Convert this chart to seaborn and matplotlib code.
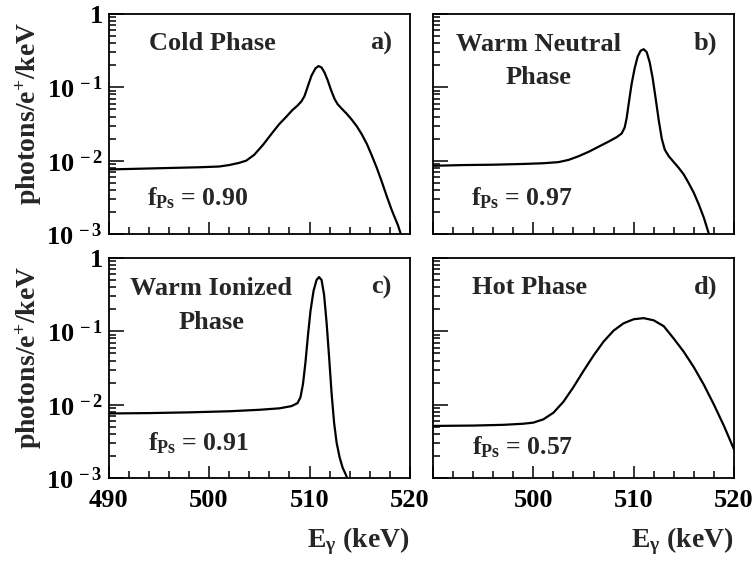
import numpy as np
import pandas as pd
import matplotlib
matplotlib.use("Agg")
import matplotlib.pyplot as plt
import seaborn as sns
from matplotlib.ticker import FixedLocator, MultipleLocator, LogLocator, NullFormatter

# ---------------- data ----------------
cold_e = [490, 493, 496, 499, 501, 502, 503, 503.7, 504.5, 505.4, 506.3, 507.0, 507.7,
          508.3, 508.8, 509.2, 509.5, 509.8, 510.2, 510.6, 510.9, 511.2, 511.5, 511.8,
          512.15, 512.5, 512.8, 513.2, 513.7, 514.2, 514.7, 515.2, 515.7, 516.2, 516.7,
          517.2, 517.7, 518.2, 518.8, 519.2]
cold_log10 = [-2.12, -2.11, -2.10, -2.09, -2.08, -2.06, -2.03, -2.00, -1.92, -1.78, -1.62,
              -1.50, -1.40, -1.31, -1.25, -1.19, -1.12, -1.00, -0.84, -0.74, -0.71, -0.73,
              -0.80, -0.90, -1.04, -1.16, -1.23, -1.29, -1.36, -1.44, -1.53, -1.64, -1.77,
              -1.93, -2.10, -2.29, -2.49, -2.68, -2.88, -3.05]

wn_e = [490, 493, 496, 499, 501, 502.5, 503.5, 504.5, 505.5, 506.5, 507.5, 508.3, 508.8,
        509.1, 509.3, 509.55, 509.8, 510.1, 510.4, 510.7, 511.0, 511.3, 511.6, 511.9,
        512.2, 512.5, 512.8, 513.1, 513.5, 514.0, 514.5, 515.0, 515.5, 516.0, 516.5,
        517.0, 517.5, 517.6]
wn_log10 = [-2.07, -2.06, -2.055, -2.045, -2.035, -2.02, -1.99, -1.94, -1.88, -1.81, -1.74,
            -1.68, -1.63, -1.55, -1.42, -1.18, -0.95, -0.74, -0.58, -0.50, -0.48, -0.52,
            -0.66, -0.88, -1.16, -1.45, -1.70, -1.85, -1.94, -2.02, -2.10, -2.19, -2.31,
            -2.44, -2.60, -2.78, -3.00, -3.05]

wi_e = [490, 494, 498, 502, 505, 507, 508.2, 508.8, 509.1, 509.35, 509.6, 509.85, 510.1,
        510.4, 510.7, 510.95, 511.2, 511.45, 511.7, 511.95, 512.2, 512.45, 512.7, 513.0,
        513.3, 513.6, 513.9]
wi_log10 = [-2.12, -2.115, -2.105, -2.09, -2.07, -2.05, -2.02, -1.98, -1.90, -1.72, -1.42,
            -1.05, -0.72, -0.45, -0.30, -0.26, -0.30, -0.50, -0.88, -1.35, -1.85, -2.25,
            -2.52, -2.72, -2.86, -2.95, -3.05]

hot_e = [490, 494, 497, 499, 500, 501, 502, 503, 504, 505, 506, 507, 508, 509, 510, 511,
         512, 513, 514, 515, 516, 517, 518, 519, 520]
hot_log10 = [-2.29, -2.285, -2.275, -2.26, -2.245, -2.20, -2.11, -1.96, -1.76, -1.54, -1.33,
             -1.14, -0.99, -0.89, -0.835, -0.82, -0.85, -0.93, -1.10, -1.28, -1.49, -1.73,
             -2.00, -2.29, -2.61]

phase_titles = ["Cold Phase", "Warm Neutral\nPhase", "Warm Ionized\nPhase", "Hot Phase"]
panel_tags = ["a)", "b)", "c)", "d)"]
fps_values = ["0.90", "0.97", "0.91", "0.57"]
x_ticks = [490, 500, 510, 520]
y_ticks = [1e-3, 1e-2, 1e-1, 1]
y_tick_labels = [r"$10^{\,-3}$", r"$10^{\,-2}$", r"$10^{\,-1}$", r"$1$"]

# ---------------- style ----------------
sns.set_theme(style="ticks")
plt.rcParams["font.family"] = ["Liberation Serif", "DejaVu Serif"]
plt.rcParams["font.weight"] = "bold"
plt.rcParams["mathtext.fontset"] = "custom"
plt.rcParams["mathtext.rm"] = "Liberation Serif:bold"
plt.rcParams["mathtext.it"] = "Liberation Serif:bold"
plt.rcParams["mathtext.bf"] = "Liberation Serif:bold"
plt.rcParams["mathtext.default"] = "rm"

W, H = 755, 563
fig = plt.figure(figsize=(W / 100, H / 100), dpi=100)

def px_axes(l, r, t, b):
    return fig.add_axes([l / W, 1 - b / H, (r - l) / W, (b - t) / H])

axes = [px_axes(108.5, 410, 14, 234), px_axes(433, 734, 14, 234),
        px_axes(108.5, 410, 258, 478), px_axes(433, 734, 258, 478)]

series = [(cold_e, cold_log10), (wn_e, wn_log10), (wi_e, wi_log10), (hot_e, hot_log10)]

title_pos = [(0.343, 0.865), (0.349, 0.786), (0.34, 0.783), (0.322, 0.865)]
fps_pos = [(0.294, 0.13), (0.296, 0.13), (0.298, 0.125), (0.298, 0.105)]
FS = 19

for i, ax in enumerate(axes):
    e, lg = series[i]
    df = pd.DataFrame({"E": e, "y": np.power(10.0, lg)})
    sns.lineplot(data=df, x="E", y="y", ax=ax, color="black", linewidth=1.6,
                 sort=False, estimator=None)
    ax.set_yscale("log")
    ax.set_xlim(490, 520)
    ax.set_ylim(1e-3, 1)
    for s in ax.spines.values():
        s.set_visible(True)
        s.set_linewidth(1.3)
        s.set_color("black")
    ax.xaxis.set_major_locator(MultipleLocator(10))
    ax.xaxis.set_minor_locator(MultipleLocator(2))
    ax.yaxis.set_major_locator(FixedLocator(y_ticks))
    ax.yaxis.set_minor_locator(LogLocator(base=10, subs=np.arange(2, 10)))
    ax.yaxis.set_minor_formatter(NullFormatter())
    ax.tick_params(axis="both", which="both", direction="in", top=False, right=False,
                   colors="black", width=1.1)
    ax.tick_params(axis="x", which="major", length=9)
    ax.tick_params(axis="x", which="minor", length=5)
    ax.tick_params(axis="y", which="major", length=11)
    ax.tick_params(axis="y", which="minor", length=5)
    ax.set_xlabel("")
    ax.set_ylabel("")

    # texts
    ax.text(title_pos[i][0], title_pos[i][1], phase_titles[i], transform=ax.transAxes,
            ha="center", va="center", fontsize=FS, fontweight="bold", linespacing=1.6)
    ax.text(0.905, 0.865, panel_tags[i], transform=ax.transAxes, ha="center", va="center",
            fontsize=FS, fontweight="bold")
    ax.text(fps_pos[i][0], fps_pos[i][1], r"$\mathrm{f_{Ps}}$ = " + fps_values[i],
            transform=ax.transAxes, ha="center", va="baseline", fontsize=18.5,
            fontweight="bold")

    if i in (0, 2):
        ax.set_yticks(y_ticks)
        ax.set_yticklabels(y_tick_labels, fontsize=FS)
        ax.set_ylabel(r"photons/e$^{+}$/keV", fontsize=20, fontweight="bold")
        ax.yaxis.set_label_coords(-0.215, 0.55)
    else:
        ax.set_yticklabels([])
    if i == 2:
        ax.set_xticks(x_ticks)
        ax.set_xticklabels([str(v) for v in x_ticks], fontsize=FS)
    elif i == 3:
        ax.set_xticks(x_ticks)
        ax.set_xticklabels([""] + [str(v) for v in x_ticks[1:]], fontsize=FS)
    else:
        ax.set_xticklabels([])
    ax.tick_params(axis="x", which="major", pad=8)
    ax.tick_params(axis="y", which="major", pad=4)
    if i in (2, 3):
        ax.text(1.0, -0.315, r"E$_{\gamma}$ (keV)", transform=ax.transAxes, ha="right",
                va="baseline", fontsize=20, fontweight="bold")

fig.savefig("out.png", dpi=100)
